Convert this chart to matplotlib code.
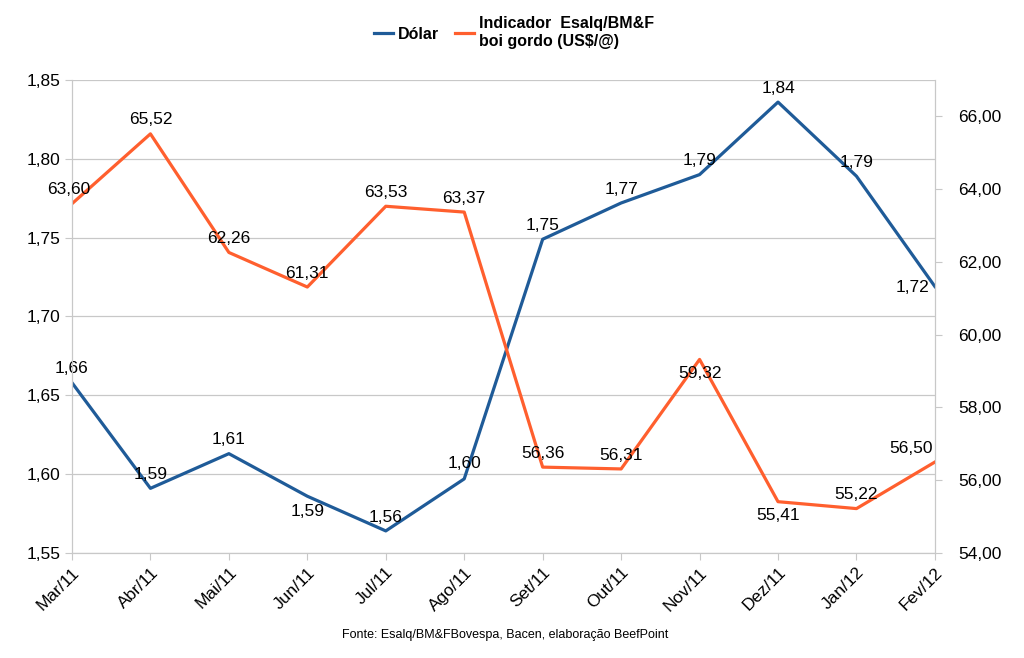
import matplotlib.pyplot as plt
from matplotlib.ticker import FuncFormatter

plt.rcParams['font.family'] = ['Liberation Sans', 'DejaVu Sans']

meses = ['Mar/11', 'Abr/11', 'Mai/11', 'Jun/11', 'Jul/11', 'Ago/11',
         'Set/11', 'Out/11', 'Nov/11', 'Dez/11', 'Jan/12', 'Fev/12']
dolar = [1.658, 1.591, 1.613, 1.586, 1.564, 1.597,
         1.749, 1.772, 1.790, 1.836, 1.789, 1.719]
boi = [63.60, 65.52, 62.26, 61.31, 63.53, 63.37,
       56.36, 56.31, 59.32, 55.41, 55.22, 56.50]

# label offsets in points (dx, dy)
off_dolar = [(0, 10), (0, 10), (0, 10), (0, -11), (0, 10), (0, 11),
             (0, 10), (0, 10), (0, 10), (0, 10), (0, 10), (-16, -1)]
off_boi = [(-2, 10), (0, 10), (0, 10), (0, 10), (0, 10), (0, 10),
           (0, 10), (0, 10), (0, -10), (0, -10), (0, 10), (-17, 10)]

azul = '#1f5b98'
laranja = '#ff5f2e'
cinza = '#c8c8c8'

def virgula(v, pos, nd=2):
    return f'{v:.{nd}f}'.replace('.', ',')

fig = plt.figure(figsize=(10.24, 6.58), dpi=100)
ax = fig.add_axes([0.0703, 0.1596, 0.8427, 0.7188])
ax2 = ax.twinx()

x = range(len(meses))
l1, = ax.plot(x, dolar, color=azul, lw=2.3)
l2, = ax2.plot(x, boi, color=laranja, lw=2.3)

ax.set_xlim(0, len(meses) - 1)
ax.set_ylim(1.55, 1.85)
ax.set_yticks([1.55, 1.60, 1.65, 1.70, 1.75, 1.80, 1.85])
ax.yaxis.set_major_formatter(FuncFormatter(virgula))
ax2.set_ylim(54, 67.0)
ax2.set_yticks([54, 56, 58, 60, 62, 64, 66])
ax2.yaxis.set_major_formatter(FuncFormatter(virgula))

ax.set_xticks(list(x))
ax.set_xticklabels(meses, rotation=45, ha='right', rotation_mode='anchor')
ax.grid(axis='y', color=cinza, lw=0.9)
ax.set_axisbelow(True)

for a in (ax, ax2):
    for s in a.spines.values():
        s.set_color(cinza)
    a.tick_params(colors='black', labelsize=12.5, length=5, color=cinza)
ax2.tick_params(axis='y', pad=12)
ax2.spines['top'].set_visible(False)
ax.spines['top'].set_visible(False)

for i, v in enumerate(dolar):
    ax.annotate(virgula(v, None), (i, v), xytext=off_dolar[i], textcoords='offset points',
                ha='center', va='center', fontsize=12.5)
for i, v in enumerate(boi):
    ax2.annotate(virgula(v, None), (i, v), xytext=off_boi[i], textcoords='offset points',
                 ha='center', va='center', fontsize=12.5)

fig.legend([l1, l2], ['Dólar', 'Indicador  Esalq/BM&F\nboi gordo (US$/@)'],
           loc='upper center', bbox_to_anchor=(0.502, 0.997), ncol=2, frameon=False,
           handlelength=1.2, handletextpad=0.3, columnspacing=1.0,
           prop={'weight': 'bold', 'size': 11.5}, labelspacing=0.2)

fig.text(0.493, 0.03, 'Fonte: Esalq/BM&FBovespa, Bacen, elaboração BeefPoint',
         ha='center', fontsize=9)

fig.savefig('out.png', dpi=100)
